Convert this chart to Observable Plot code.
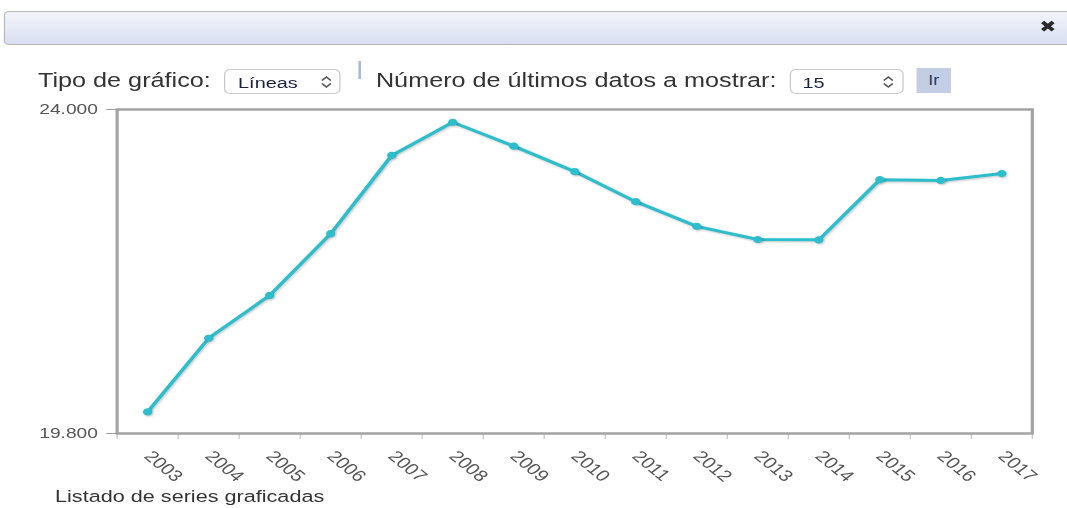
<!DOCTYPE html>
<html>
<head>
<meta charset="utf-8">
<script src="https://cdn.jsdelivr.net/npm/d3@7"></script>
<script src="https://cdn.jsdelivr.net/npm/@observablehq/plot@0.6"></script>
<style>
  html, body { margin: 0; padding: 0; background: #fff; overflow: hidden; width: 1067px; height: 508px; }
  #page { position: absolute; left: 0; top: 0; width: 834px; height: 508px; transform: scaleX(1.28); transform-origin: 0 0; font-family: "Liberation Sans", Arial, sans-serif; }
  .abs { position: absolute; white-space: nowrap; line-height: 1; }
  #topbar { position: absolute; left: 3px; top: 11px; width: 850px; height: 34px; border: 1px solid #b9b9b9; border-radius: 4px; background: linear-gradient(#f2f4f9, #d9dff2); box-sizing: border-box; }
  #close { position: absolute; left: 812px; top: 19px; font-family: "DejaVu Sans", sans-serif; font-size: 16px; color: #2a2a2a; line-height: 1; font-weight: bold; }
  .label { font-size: 19.7px; color: #333; }
  .select { position: absolute; top: 69px; height: 25px; border: 1px solid #c9c9c9; border-radius: 5px; box-sizing: border-box; background: #fff; }
  .select span { position: absolute; top: 5px; font-size: 15.5px; color: #1b2142; line-height: 1; }
  .select svg { position: absolute; top: 5px; }
  #bar { position: absolute; left: 280px; top: 61px; width: 2px; height: 18px; background: #a9b9d9; }
  #ir { position: absolute; left: 716px; top: 68px; width: 27px; height: 25px; background: #c3cee4; color: #2d3b5c; font-size: 14px; line-height: 25px; text-align: center; }
  #chart { position: absolute; left: 0; top: 95px; }
  #chart svg { background: transparent; overflow: visible; }
  #chart g[aria-label="frame"] rect { filter: drop-shadow(2px 2px 1.5px rgba(0,0,0,0.35)); }
  #chart g[aria-label="line"] path, #chart g[aria-label="dot"] circle { filter: drop-shadow(1px 1.5px 1px rgba(0,0,0,0.22)); }
  #footer { font-size: 16.9px; color: #333; }
</style>
</head>
<body>
<div id="page">
  <div id="topbar"></div>
  <div id="close">✖</div>
  <div class="abs label" style="left:29.7px; top:70.5px;">Tipo de gráfico:</div>
  <div class="select" style="left:175px; width:91px;">
    <span style="left:10px;">Líneas</span>
    <svg width="10" height="14" viewBox="0 0 10 14" style="left:74px;"><path d="M1.5 5.5 L5 2 L8.5 5.5 M1.5 8.5 L5 12 L8.5 8.5" fill="none" stroke="#555" stroke-width="1.4"/></svg>
  </div>
  <div id="bar"></div>
  <div class="abs label" style="left:293.7px; top:70.5px;">Número de últimos datos a mostrar:</div>
  <div class="select" style="left:617px; width:88.5px;">
    <span style="left:9px;">15</span>
    <svg width="10" height="14" viewBox="0 0 10 14" style="left:71px;"><path d="M1.5 5.5 L5 2 L8.5 5.5 M1.5 8.5 L5 12 L8.5 8.5" fill="none" stroke="#555" stroke-width="1.4"/></svg>
  </div>
  <div id="ir">Ir</div>
  <div id="chart"></div>
  <div class="abs" id="footer" style="left:43px; top:488.5px;">Listado de series graficadas</div>
</div>
<script>
// Data
const years = [2003, 2004, 2005, 2006, 2007, 2008, 2009, 2010, 2011, 2012, 2013, 2014, 2015, 2016, 2017];
const values = [20080, 21035, 21590, 22390, 23405, 23835, 23525, 23195, 22805, 22485, 22315, 22310, 23090, 23080, 23170];
const yTicks = [19800, 24000];

const rows = years.map((year, i) => ({year, value: values[i]}));
const esLocale = d3.formatLocale({decimal: ",", thousands: ".", grouping: [3], currency: ["", " €"]});
const fmt = esLocale.format(",.0f");
const bounds = years.map(y => y - 0.5).concat([years[years.length - 1] + 0.5]);

const color = "#2cbecd";

const chart = Plot.plot({
  width: 834,
  height: 395,
  marginTop: 14,
  marginBottom: 57,
  marginLeft: 91,
  marginRight: 28,
  style: {fontFamily: "'Liberation Sans', Arial, sans-serif", fontSize: "15px", color: "#555", background: "transparent"},
  x: {type: "linear", domain: [bounds[0], bounds[bounds.length - 1]]},
  y: {domain: [yTicks[0], yTicks[yTicks.length - 1]]},
  marks: [
    Plot.axisY({ticks: yTicks, tickFormat: fmt, tickSize: 8, tickPadding: 7, stroke: "#9a9a9a", label: null}),
    Plot.axisX({ticks: bounds, tickFormat: () => "", tickSize: 6, stroke: "#c8c8c8", label: null}),
    Plot.axisX({ticks: years, tickFormat: d => String(d), tickSize: 0, tickPadding: 20, tickRotate: 46, fontSize: 16, label: null}),
    Plot.frame({stroke: "#a3a3a3", strokeWidth: 2.5}),
    Plot.line(rows, {x: "year", y: "value", stroke: color, strokeWidth: 3}),
    Plot.dot(rows, {x: "year", y: "value", r: 3.6, fill: color})
  ]
});
document.getElementById("chart").appendChild(chart);
</script>
</body>
</html>
